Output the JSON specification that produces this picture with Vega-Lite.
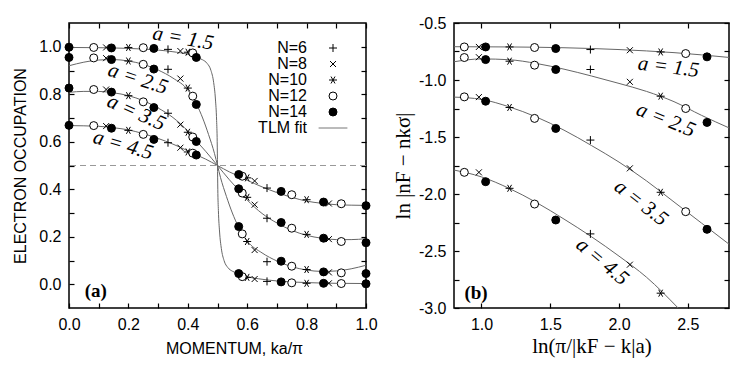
{
  "$schema": "https://vega.github.io/schema/vega-lite/v6.json",
  "background": "white",
  "padding": {"left": 12, "top": 14, "right": 5, "bottom": 5},
  "bounds": "flush",
  "spacing": 88,
  "config": {
    "view": {"stroke": "black", "strokeWidth": 1.5},
    "axis": {
      "domain": false, "grid": false, "tickColor": "black", "tickSize": -5, "tickWidth": 1.2, "labelFlush": false, "labelOverlap": false,
      "labelFont": "Liberation Sans", "labelFontSize": 16, "labelColor": "black", "labelPadding": 13,
      "titleFont": "Liberation Sans", "titleFontSize": 16, "titleFontWeight": "normal", "titleColor": "black"
    }
  },
  "resolve": {"scale": {"shape": "independent", "fill": "independent", "stroke": "independent"}},
  "datasets": {
    "ptsL": [
      {"N":"N=6","a":"1.5","x":0,"y":0.998},{"N":"N=6","a":"1.5","x":0.3333,"y":0.989},{"N":"N=6","a":"1.5","x":0.6667,"y":0.012},{"N":"N=6","a":"1.5","x":1,"y":0.002},
      {"N":"N=6","a":"2.5","x":0,"y":0.955},{"N":"N=6","a":"2.5","x":0.3333,"y":0.905},{"N":"N=6","a":"2.5","x":0.6667,"y":0.095},{"N":"N=6","a":"2.5","x":1,"y":0.045},
      {"N":"N=6","a":"3.5","x":0,"y":0.826},{"N":"N=6","a":"3.5","x":0.3333,"y":0.72},{"N":"N=6","a":"3.5","x":0.6667,"y":0.278},{"N":"N=6","a":"3.5","x":1,"y":0.175},
      {"N":"N=6","a":"4.5","x":0,"y":0.669},{"N":"N=6","a":"4.5","x":0.3333,"y":0.596},{"N":"N=6","a":"4.5","x":0.6667,"y":0.405},{"N":"N=6","a":"4.5","x":1,"y":0.331},
      {"N":"N=8","a":"1.5","x":0.125,"y":0.997},{"N":"N=8","a":"1.5","x":0.375,"y":0.982},{"N":"N=8","a":"1.5","x":0.625,"y":0.022},{"N":"N=8","a":"1.5","x":0.875,"y":0.004},
      {"N":"N=8","a":"2.5","x":0.125,"y":0.952},{"N":"N=8","a":"2.5","x":0.375,"y":0.866},{"N":"N=8","a":"2.5","x":0.625,"y":0.144},{"N":"N=8","a":"2.5","x":0.875,"y":0.05},
      {"N":"N=8","a":"3.5","x":0.125,"y":0.82},{"N":"N=8","a":"3.5","x":0.375,"y":0.672},{"N":"N=8","a":"3.5","x":0.625,"y":0.335},{"N":"N=8","a":"3.5","x":0.875,"y":0.19},
      {"N":"N=8","a":"4.5","x":0.125,"y":0.666},{"N":"N=8","a":"4.5","x":0.375,"y":0.575},{"N":"N=8","a":"4.5","x":0.625,"y":0.435},{"N":"N=8","a":"4.5","x":0.875,"y":0.34},
      {"N":"N=10","a":"1.5","x":0,"y":0.998},{"N":"N=10","a":"1.5","x":0.2,"y":0.997},{"N":"N=10","a":"1.5","x":0.4,"y":0.977},{"N":"N=10","a":"1.5","x":0.6,"y":0.029},{"N":"N=10","a":"1.5","x":0.8,"y":0.004},{"N":"N=10","a":"1.5","x":1,"y":0.002},
      {"N":"N=10","a":"2.5","x":0,"y":0.955},{"N":"N=10","a":"2.5","x":0.2,"y":0.94},{"N":"N=10","a":"2.5","x":0.4,"y":0.826},{"N":"N=10","a":"2.5","x":0.6,"y":0.18},{"N":"N=10","a":"2.5","x":0.8,"y":0.062},{"N":"N=10","a":"2.5","x":1,"y":0.045},
      {"N":"N=10","a":"3.5","x":0,"y":0.826},{"N":"N=10","a":"3.5","x":0.2,"y":0.794},{"N":"N=10","a":"3.5","x":0.4,"y":0.64},{"N":"N=10","a":"3.5","x":0.6,"y":0.366},{"N":"N=10","a":"3.5","x":0.8,"y":0.21},{"N":"N=10","a":"3.5","x":1,"y":0.175},
      {"N":"N=10","a":"4.5","x":0,"y":0.669},{"N":"N=10","a":"4.5","x":0.2,"y":0.648},{"N":"N=10","a":"4.5","x":0.4,"y":0.557},{"N":"N=10","a":"4.5","x":0.6,"y":0.448},{"N":"N=10","a":"4.5","x":0.8,"y":0.356},{"N":"N=10","a":"4.5","x":1,"y":0.331},
      {"N":"N=12","a":"1.5","x":0.0833,"y":0.997},{"N":"N=12","a":"1.5","x":0.25,"y":0.996},{"N":"N=12","a":"1.5","x":0.4167,"y":0.974},{"N":"N=12","a":"1.5","x":0.5833,"y":0.032},{"N":"N=12","a":"1.5","x":0.75,"y":0.006},{"N":"N=12","a":"1.5","x":0.9167,"y":0.003},
      {"N":"N=12","a":"2.5","x":0.0833,"y":0.953},{"N":"N=12","a":"2.5","x":0.25,"y":0.926},{"N":"N=12","a":"2.5","x":0.4167,"y":0.792},{"N":"N=12","a":"2.5","x":0.5833,"y":0.212},{"N":"N=12","a":"2.5","x":0.75,"y":0.076},{"N":"N=12","a":"2.5","x":0.9167,"y":0.048},
      {"N":"N=12","a":"3.5","x":0.0833,"y":0.82},{"N":"N=12","a":"3.5","x":0.25,"y":0.768},{"N":"N=12","a":"3.5","x":0.4167,"y":0.62},{"N":"N=12","a":"3.5","x":0.5833,"y":0.384},{"N":"N=12","a":"3.5","x":0.75,"y":0.236},{"N":"N=12","a":"3.5","x":0.9167,"y":0.18},
      {"N":"N=12","a":"4.5","x":0.0833,"y":0.668},{"N":"N=12","a":"4.5","x":0.25,"y":0.631},{"N":"N=12","a":"4.5","x":0.4167,"y":0.552},{"N":"N=12","a":"4.5","x":0.5833,"y":0.455},{"N":"N=12","a":"4.5","x":0.75,"y":0.377},{"N":"N=12","a":"4.5","x":0.9167,"y":0.339},
      {"N":"N=14","a":"1.5","x":0,"y":0.998},{"N":"N=14","a":"1.5","x":0.1429,"y":0.995},{"N":"N=14","a":"1.5","x":0.2857,"y":0.993},{"N":"N=14","a":"1.5","x":0.4286,"y":0.955},{"N":"N=14","a":"1.5","x":0.5714,"y":0.045},{"N":"N=14","a":"1.5","x":0.7143,"y":0.01},{"N":"N=14","a":"1.5","x":0.8571,"y":0.004},{"N":"N=14","a":"1.5","x":1,"y":0.002},
      {"N":"N=14","a":"2.5","x":0,"y":0.955},{"N":"N=14","a":"2.5","x":0.1429,"y":0.946},{"N":"N=14","a":"2.5","x":0.2857,"y":0.906},{"N":"N=14","a":"2.5","x":0.4286,"y":0.757},{"N":"N=14","a":"2.5","x":0.5714,"y":0.243},{"N":"N=14","a":"2.5","x":0.7143,"y":0.097},{"N":"N=14","a":"2.5","x":0.8571,"y":0.052},{"N":"N=14","a":"2.5","x":1,"y":0.045},
      {"N":"N=14","a":"3.5","x":0,"y":0.826},{"N":"N=14","a":"3.5","x":0.1429,"y":0.809},{"N":"N=14","a":"3.5","x":0.2857,"y":0.744},{"N":"N=14","a":"3.5","x":0.4286,"y":0.601},{"N":"N=14","a":"3.5","x":0.5714,"y":0.402},{"N":"N=14","a":"3.5","x":0.7143,"y":0.26},{"N":"N=14","a":"3.5","x":0.8571,"y":0.194},{"N":"N=14","a":"3.5","x":1,"y":0.175},
      {"N":"N=14","a":"4.5","x":0,"y":0.669},{"N":"N=14","a":"4.5","x":0.1429,"y":0.657},{"N":"N=14","a":"4.5","x":0.2857,"y":0.61},{"N":"N=14","a":"4.5","x":0.4286,"y":0.544},{"N":"N=14","a":"4.5","x":0.5714,"y":0.462},{"N":"N=14","a":"4.5","x":0.7143,"y":0.391},{"N":"N=14","a":"4.5","x":0.8571,"y":0.346},{"N":"N=14","a":"4.5","x":1,"y":0.331}
    ],
    "fitL": [
      {"a":"1.5","x":0,"y":0.997},{"a":"1.5","x":0.1,"y":0.996},{"a":"1.5","x":0.2,"y":0.993},{"a":"1.5","x":0.3,"y":0.986},{"a":"1.5","x":0.35,"y":0.979},{"a":"1.5","x":0.4,"y":0.968},{"a":"1.5","x":0.43,"y":0.955},{"a":"1.5","x":0.45,"y":0.945},{"a":"1.5","x":0.465,"y":0.93},{"a":"1.5","x":0.478,"y":0.9},{"a":"1.5","x":0.487,"y":0.85},{"a":"1.5","x":0.493,"y":0.78},{"a":"1.5","x":0.497,"y":0.69},{"a":"1.5","x":0.499,"y":0.6},{"a":"1.5","x":0.5,"y":0.5},
      {"a":"1.5","x":0.501,"y":0.4},{"a":"1.5","x":0.503,"y":0.31},{"a":"1.5","x":0.507,"y":0.22},{"a":"1.5","x":0.513,"y":0.15},{"a":"1.5","x":0.522,"y":0.1},{"a":"1.5","x":0.535,"y":0.07},{"a":"1.5","x":0.55,"y":0.055},{"a":"1.5","x":0.57,"y":0.045},{"a":"1.5","x":0.6,"y":0.032},{"a":"1.5","x":0.65,"y":0.021},{"a":"1.5","x":0.7,"y":0.014},{"a":"1.5","x":0.8,"y":0.007},{"a":"1.5","x":0.9,"y":0.004},{"a":"1.5","x":1,"y":0.003},
      {"a":"2.5","x":0,"y":0.92},{"a":"2.5","x":0.05,"y":0.935},{"a":"2.5","x":0.1,"y":0.944},{"a":"2.5","x":0.15,"y":0.946},{"a":"2.5","x":0.2,"y":0.94},{"a":"2.5","x":0.25,"y":0.926},{"a":"2.5","x":0.3,"y":0.902},{"a":"2.5","x":0.35,"y":0.868},{"a":"2.5","x":0.4,"y":0.818},{"a":"2.5","x":0.43,"y":0.757},{"a":"2.5","x":0.45,"y":0.7},{"a":"2.5","x":0.47,"y":0.63},{"a":"2.5","x":0.49,"y":0.55},{"a":"2.5","x":0.5,"y":0.5},{"a":"2.5","x":0.51,"y":0.45},{"a":"2.5","x":0.53,"y":0.37},{"a":"2.5","x":0.55,"y":0.3},{"a":"2.5","x":0.57,"y":0.243},{"a":"2.5","x":0.6,"y":0.182},{"a":"2.5","x":0.65,"y":0.132},{"a":"2.5","x":0.7,"y":0.098},{"a":"2.5","x":0.75,"y":0.074},{"a":"2.5","x":0.8,"y":0.06},{"a":"2.5","x":0.85,"y":0.054},{"a":"2.5","x":0.9,"y":0.056},{"a":"2.5","x":0.95,"y":0.065},{"a":"2.5","x":1,"y":0.08},
      {"a":"3.5","x":0,"y":0.808},{"a":"3.5","x":0.05,"y":0.812},{"a":"3.5","x":0.1,"y":0.812},{"a":"3.5","x":0.15,"y":0.806},{"a":"3.5","x":0.2,"y":0.794},{"a":"3.5","x":0.25,"y":0.773},{"a":"3.5","x":0.3,"y":0.742},{"a":"3.5","x":0.35,"y":0.702},{"a":"3.5","x":0.4,"y":0.645},{"a":"3.5","x":0.43,"y":0.602},{"a":"3.5","x":0.46,"y":0.56},{"a":"3.5","x":0.5,"y":0.5},{"a":"3.5","x":0.54,"y":0.44},{"a":"3.5","x":0.57,"y":0.398},{"a":"3.5","x":0.6,"y":0.355},{"a":"3.5","x":0.65,"y":0.298},{"a":"3.5","x":0.7,"y":0.258},{"a":"3.5","x":0.75,"y":0.227},{"a":"3.5","x":0.8,"y":0.206},{"a":"3.5","x":0.85,"y":0.194},{"a":"3.5","x":0.9,"y":0.188},{"a":"3.5","x":0.95,"y":0.188},{"a":"3.5","x":1,"y":0.192},
      {"a":"4.5","x":0,"y":0.668},{"a":"4.5","x":0.1,"y":0.665},{"a":"4.5","x":0.15,"y":0.659},{"a":"4.5","x":0.2,"y":0.65},{"a":"4.5","x":0.25,"y":0.634},{"a":"4.5","x":0.3,"y":0.614},{"a":"4.5","x":0.35,"y":0.59},{"a":"4.5","x":0.4,"y":0.562},{"a":"4.5","x":0.43,"y":0.544},{"a":"4.5","x":0.46,"y":0.527},{"a":"4.5","x":0.5,"y":0.5},{"a":"4.5","x":0.54,"y":0.473},{"a":"4.5","x":0.57,"y":0.456},{"a":"4.5","x":0.6,"y":0.438},{"a":"4.5","x":0.65,"y":0.41},{"a":"4.5","x":0.7,"y":0.386},{"a":"4.5","x":0.75,"y":0.366},{"a":"4.5","x":0.8,"y":0.35},{"a":"4.5","x":0.85,"y":0.341},{"a":"4.5","x":0.9,"y":0.335},{"a":"4.5","x":0.95,"y":0.333},{"a":"4.5","x":1,"y":0.332}
    ],
    "ptsR": [
      {"N":"N=6","a":"1.5","x":1.792,"y":-0.733},{"N":"N=6","a":"2.5","x":1.792,"y":-0.908},{"N":"N=6","a":"3.5","x":1.792,"y":-1.527},{"N":"N=6","a":"4.5","x":1.792,"y":-2.35},
      {"N":"N=8","a":"1.5","x":0.981,"y":-0.71},{"N":"N=8","a":"1.5","x":2.079,"y":-0.739},{"N":"N=8","a":"2.5","x":0.981,"y":-0.8},{"N":"N=8","a":"2.5","x":2.079,"y":-1.016},
      {"N":"N=8","a":"3.5","x":0.981,"y":-1.15},{"N":"N=8","a":"3.5","x":2.079,"y":-1.775},{"N":"N=8","a":"4.5","x":0.981,"y":-1.81},{"N":"N=8","a":"4.5","x":2.079,"y":-2.62},
      {"N":"N=10","a":"1.5","x":1.204,"y":-0.71},{"N":"N=10","a":"1.5","x":2.303,"y":-0.754},{"N":"N=10","a":"2.5","x":1.204,"y":-0.835},{"N":"N=10","a":"2.5","x":2.303,"y":-1.142},
      {"N":"N=10","a":"3.5","x":1.204,"y":-1.241},{"N":"N=10","a":"3.5","x":2.303,"y":-1.985},{"N":"N=10","a":"4.5","x":1.204,"y":-1.95},{"N":"N=10","a":"4.5","x":2.303,"y":-2.87},
      {"N":"N=12","a":"1.5","x":0.875,"y":-0.71},{"N":"N=12","a":"1.5","x":1.386,"y":-0.715},{"N":"N=12","a":"1.5","x":2.485,"y":-0.768},
      {"N":"N=12","a":"2.5","x":0.875,"y":-0.803},{"N":"N=12","a":"2.5","x":1.386,"y":-0.87},{"N":"N=12","a":"2.5","x":2.485,"y":-1.25},
      {"N":"N=12","a":"3.5","x":0.875,"y":-1.148},{"N":"N=12","a":"3.5","x":1.386,"y":-1.337},{"N":"N=12","a":"3.5","x":2.485,"y":-2.155},
      {"N":"N=12","a":"4.5","x":0.875,"y":-1.81},{"N":"N=12","a":"4.5","x":1.386,"y":-2.088},
      {"N":"N=14","a":"1.5","x":1.03,"y":-0.71},{"N":"N=14","a":"1.5","x":1.54,"y":-0.724},{"N":"N=14","a":"1.5","x":2.64,"y":-0.797},
      {"N":"N=14","a":"2.5","x":1.03,"y":-0.821},{"N":"N=14","a":"2.5","x":1.54,"y":-0.908},{"N":"N=14","a":"2.5","x":2.64,"y":-1.372},
      {"N":"N=14","a":"3.5","x":1.03,"y":-1.186},{"N":"N=14","a":"3.5","x":1.54,"y":-1.425},{"N":"N=14","a":"3.5","x":2.64,"y":-2.31},
      {"N":"N=14","a":"4.5","x":1.03,"y":-1.892},{"N":"N=14","a":"4.5","x":1.54,"y":-2.228}
    ],
    "fitR": [
      {"a":"1.5","x":0.8,"y":-0.708},{"a":"1.5","x":1.2,"y":-0.71},{"a":"1.5","x":1.6,"y":-0.717},{"a":"1.5","x":2.0,"y":-0.733},{"a":"1.5","x":2.4,"y":-0.76},{"a":"1.5","x":2.8,"y":-0.802},
      {"a":"2.5","x":0.8,"y":-0.84},{"a":"2.5","x":1.0,"y":-0.815},{"a":"2.5","x":1.2,"y":-0.822},{"a":"2.5","x":1.4,"y":-0.855},{"a":"2.5","x":1.6,"y":-0.905},{"a":"2.5","x":1.8,"y":-0.965},{"a":"2.5","x":2.0,"y":-1.03},{"a":"2.5","x":2.2,"y":-1.1},{"a":"2.5","x":2.4,"y":-1.19},{"a":"2.5","x":2.6,"y":-1.31},{"a":"2.5","x":2.8,"y":-1.42},
      {"a":"3.5","x":0.8,"y":-1.15},{"a":"3.5","x":1.0,"y":-1.17},{"a":"3.5","x":1.2,"y":-1.235},{"a":"3.5","x":1.4,"y":-1.325},{"a":"3.5","x":1.6,"y":-1.44},{"a":"3.5","x":1.8,"y":-1.575},{"a":"3.5","x":2.0,"y":-1.72},{"a":"3.5","x":2.2,"y":-1.885},{"a":"3.5","x":2.4,"y":-2.07},{"a":"3.5","x":2.6,"y":-2.255},{"a":"3.5","x":2.8,"y":-2.44},
      {"a":"4.5","x":0.8,"y":-1.79},{"a":"4.5","x":1.0,"y":-1.85},{"a":"4.5","x":1.2,"y":-1.95},{"a":"4.5","x":1.4,"y":-2.075},{"a":"4.5","x":1.6,"y":-2.22},{"a":"4.5","x":1.8,"y":-2.375},{"a":"4.5","x":2.0,"y":-2.545},{"a":"4.5","x":2.2,"y":-2.73},{"a":"4.5","x":2.43,"y":-3.0}
    ]
  },
  "hconcat": [
    {
      "width": 297, "height": 285,
      "resolve": {"axis": {"x": "independent", "y": "independent"}},
      "layer": [
        {
          "data": {"name": "fitL"},
          "mark": {"type": "line", "color": "#666", "strokeWidth": 1, "interpolate": "monotone"},
          "encoding": {
            "x": {"field": "x", "type": "quantitative", "scale": {"domain": [0, 1], "nice": false, "zero": false, "padding": 0},
                  "axis": {"values": [0,0.1,0.2,0.3,0.4,0.5,0.6,0.7,0.8,0.9,1], "orient": "bottom", "title": "MOMENTUM, ka/π", "titlePadding": 8, "titleX": 165,
                           "labelExpr": "round(datum.value*10)%2==0 ? format(datum.value,'.1f') : ''"}},
            "y": {"field": "y", "type": "quantitative", "scale": {"domain": [-0.1, 1.1], "nice": false, "zero": false, "padding": 0},
                  "axis": {"values": [0,0.1,0.2,0.3,0.4,0.5,0.6,0.7,0.8,0.9,1], "orient": "left", "title": "ELECTRON OCCUPATION", "titlePadding": 10,
                           "labelExpr": "round(datum.value*10)%2==0 ? format(datum.value,'.1f') : ''"}},
            "detail": {"field": "a"}
          }
        },
        {
          "data": {"values": [{"v": 0.5}]},
          "mark": {"type": "rule", "color": "#999", "strokeWidth": 1, "strokeDash": [6, 4]},
          "encoding": {"y": {"field": "v", "type": "quantitative", "axis": null, "scale": {"domain": [-0.1, 1.1], "nice": false, "zero": false, "padding": 0}}}
        },
        {
          "data": {"name": "ptsL"},
          "mark": {"type": "point", "size": 64, "strokeWidth": 1, "opacity": 1},
          "encoding": {
            "x": {"field": "x", "type": "quantitative", "scale": {"domain": [0, 1], "nice": false, "zero": false, "padding": 0},
                  "axis": {"values": [0,0.1,0.2,0.3,0.4,0.5,0.6,0.7,0.8,0.9,1], "orient": "top", "labels": false, "title": null}},
            "y": {"field": "y", "type": "quantitative", "scale": {"domain": [-0.1, 1.1], "nice": false, "zero": false, "padding": 0},
                  "axis": {"values": [0,0.1,0.2,0.3,0.4,0.5,0.6,0.7,0.8,0.9,1], "orient": "right", "labels": false, "title": null}},
            "shape": {"field": "N", "type": "nominal",
                      "scale": {"domain": ["N=6","N=8","N=10","N=12","N=14","TLM fit"],
                                "range": ["M-1,0H1M0,-1V1", "M-0.75,-0.75L0.75,0.75M-0.75,0.75L0.75,-0.75", "M-1,0H1M-0.5,-0.87L0.5,0.87M-0.5,0.87L0.5,-0.87", "circle", "circle", "M-3.6,0H3.6"]},
                      "legend": {"title": null, "orient": "none", "legendX": 256, "legendY": 17, "padding": 0, "rowPadding": 0,
                                 "labelAlign": "right", "labelOffset": -34, "labelFont": "Liberation Sans", "labelFontSize": 16, "labelColor": "black",
                                 "symbolSize": 64, "symbolStrokeWidth": 1}},
            "fill": {"field": "N", "type": "nominal",
                     "scale": {"domain": ["N=6","N=8","N=10","N=12","N=14","TLM fit"], "range": ["white","white","white","white","black","white"]}},
            "stroke": {"field": "N", "type": "nominal",
                       "scale": {"domain": ["N=6","N=8","N=10","N=12","N=14","TLM fit"], "range": ["black","black","black","black","black","#777"]}}
          }
        },
        {
          "data": {"values": [{"x": 0.384, "y": 1.034, "t": "a = 1.5"}]},
          "mark": {"type": "text", "font": "Liberation Serif", "fontStyle": "italic", "fontSize": 21, "angle": 10, "color": "black"},
          "encoding": {"x": {"field": "x", "type": "quantitative", "axis": null}, "y": {"field": "y", "type": "quantitative", "axis": null}, "text": {"field": "t"}}
        },
        {
          "data": {"values": [{"x": 0.232, "y": 0.864, "t": "a = 2.5"}]},
          "mark": {"type": "text", "font": "Liberation Serif", "fontStyle": "italic", "fontSize": 21, "angle": 18, "color": "black"},
          "encoding": {"x": {"field": "x", "type": "quantitative", "axis": null}, "y": {"field": "y", "type": "quantitative", "axis": null}, "text": {"field": "t"}}
        },
        {
          "data": {"values": [{"x": 0.226, "y": 0.722, "t": "a = 3.5"}]},
          "mark": {"type": "text", "font": "Liberation Serif", "fontStyle": "italic", "fontSize": 21, "angle": 24, "color": "black"},
          "encoding": {"x": {"field": "x", "type": "quantitative", "axis": null}, "y": {"field": "y", "type": "quantitative", "axis": null}, "text": {"field": "t"}}
        },
        {
          "data": {"values": [{"x": 0.182, "y": 0.585, "t": "a = 4.5"}]},
          "mark": {"type": "text", "font": "Liberation Serif", "fontStyle": "italic", "fontSize": 21, "angle": 16, "color": "black"},
          "encoding": {"x": {"field": "x", "type": "quantitative", "axis": null}, "y": {"field": "y", "type": "quantitative", "axis": null}, "text": {"field": "t"}}
        },
        {
          "data": {"values": [{"x": 0.09, "y": -0.03, "t": "(a)"}]},
          "mark": {"type": "text", "font": "Liberation Serif", "fontWeight": "bold", "fontSize": 19, "color": "black"},
          "encoding": {"x": {"field": "x", "type": "quantitative", "axis": null}, "y": {"field": "y", "type": "quantitative", "axis": null}, "text": {"field": "t"}}
        }
      ]
    },
    {
      "width": 275, "height": 285,
      "resolve": {"axis": {"x": "independent", "y": "independent"}},
      "layer": [
        {
          "data": {"name": "fitR"},
          "mark": {"type": "line", "color": "#666", "strokeWidth": 1, "interpolate": "monotone", "clip": true},
          "encoding": {
            "x": {"field": "x", "type": "quantitative", "scale": {"domain": [0.8, 2.8], "nice": false, "zero": false, "padding": 0},
                  "axis": {"values": [1, 1.5, 2, 2.5], "format": ".1f", "orient": "bottom", "title": "ln(π/|kF − k|a)", "titleFont": "Liberation Serif", "titleFontSize": 21, "titlePadding": 3}},
            "y": {"field": "y", "type": "quantitative", "scale": {"domain": [-3, -0.5], "nice": false, "zero": false, "padding": 0},
                  "axis": {"values": [-3,-2.75,-2.5,-2.25,-2,-1.75,-1.5,-1.25,-1,-0.75,-0.5], "orient": "left", "title": "ln |nF − nkσ|", "titleFont": "Liberation Serif", "titleFontSize": 21, "titlePadding": 5,
                           "labelExpr": "round(datum.value*4)%2==0 ? replace(format(datum.value,'.1f'),'−','-') : ''"}},
            "detail": {"field": "a"}
          }
        },
        {
          "data": {"name": "ptsR"},
          "mark": {"type": "point", "size": 64, "strokeWidth": 1, "opacity": 1},
          "encoding": {
            "x": {"field": "x", "type": "quantitative", "scale": {"domain": [0.8, 2.8], "nice": false, "zero": false, "padding": 0},
                  "axis": {"values": [1, 1.5, 2, 2.5], "orient": "top", "labels": false, "title": null}},
            "y": {"field": "y", "type": "quantitative", "scale": {"domain": [-3, -0.5], "nice": false, "zero": false, "padding": 0},
                  "axis": {"values": [-3,-2.75,-2.5,-2.25,-2,-1.75,-1.5,-1.25,-1,-0.75,-0.5], "orient": "right", "labels": false, "title": null}},
            "shape": {"field": "N", "type": "nominal",
                      "scale": {"domain": ["N=6","N=8","N=10","N=12","N=14","TLM fit"],
                                "range": ["M-1,0H1M0,-1V1", "M-0.75,-0.75L0.75,0.75M-0.75,0.75L0.75,-0.75", "M-1,0H1M-0.5,-0.87L0.5,0.87M-0.5,0.87L0.5,-0.87", "circle", "circle", "M-3.6,0H3.6"]},
                      "legend": null},
            "fill": {"field": "N", "type": "nominal", "legend": null,
                     "scale": {"domain": ["N=6","N=8","N=10","N=12","N=14","TLM fit"], "range": ["white","white","white","white","black","white"]}},
            "stroke": {"field": "N", "type": "nominal", "legend": null,
                       "scale": {"domain": ["N=6","N=8","N=10","N=12","N=14","TLM fit"], "range": ["black","black","black","black","black","#777"]}}
          }
        },
        {
          "data": {"values": [{"x": 2.36, "y": -0.888, "t": "a = 1.5"}]},
          "mark": {"type": "text", "font": "Liberation Serif", "fontStyle": "italic", "fontSize": 21, "angle": 7, "color": "black"},
          "encoding": {"x": {"field": "x", "type": "quantitative", "axis": null}, "y": {"field": "y", "type": "quantitative", "axis": null}, "text": {"field": "t"}}
        },
        {
          "data": {"values": [{"x": 2.34, "y": -1.352, "t": "a = 2.5"}]},
          "mark": {"type": "text", "font": "Liberation Serif", "fontStyle": "italic", "fontSize": 21, "angle": 22, "color": "black"},
          "encoding": {"x": {"field": "x", "type": "quantitative", "axis": null}, "y": {"field": "y", "type": "quantitative", "axis": null}, "text": {"field": "t"}}
        },
        {
          "data": {"values": [{"x": 2.16, "y": -2.08, "t": "a = 3.5"}]},
          "mark": {"type": "text", "font": "Liberation Serif", "fontStyle": "italic", "fontSize": 21, "angle": 38, "color": "black"},
          "encoding": {"x": {"field": "x", "type": "quantitative", "axis": null}, "y": {"field": "y", "type": "quantitative", "axis": null}, "text": {"field": "t"}}
        },
        {
          "data": {"values": [{"x": 1.877, "y": -2.595, "t": "a = 4.5"}]},
          "mark": {"type": "text", "font": "Liberation Serif", "fontStyle": "italic", "fontSize": 21, "angle": 40, "color": "black"},
          "encoding": {"x": {"field": "x", "type": "quantitative", "axis": null}, "y": {"field": "y", "type": "quantitative", "axis": null}, "text": {"field": "t"}}
        },
        {
          "data": {"values": [{"x": 0.96, "y": -2.87, "t": "(b)"}]},
          "mark": {"type": "text", "font": "Liberation Serif", "fontWeight": "bold", "fontSize": 19, "color": "black"},
          "encoding": {"x": {"field": "x", "type": "quantitative", "axis": null}, "y": {"field": "y", "type": "quantitative", "axis": null}, "text": {"field": "t"}}
        }
      ]
    }
  ]
}
